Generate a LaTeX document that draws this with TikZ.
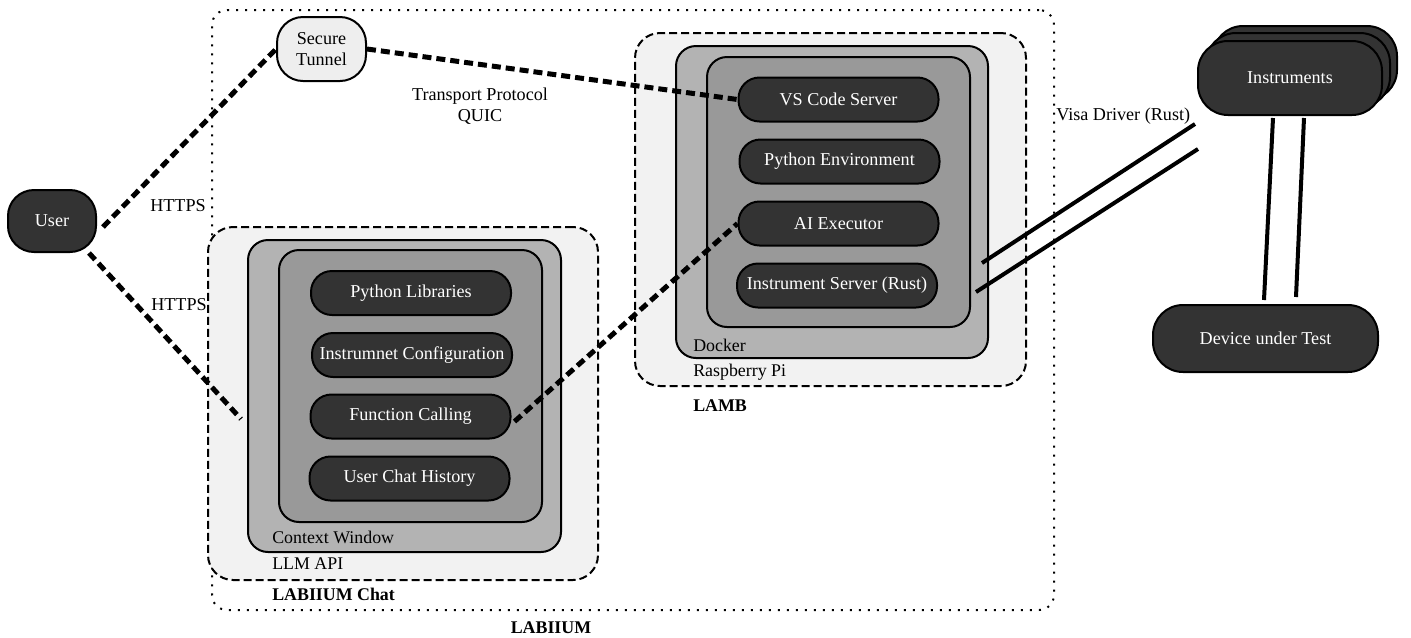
\documentclass[tikz,border=0pt]{standalone}
\usepackage{fontspec}
\setmainfont{Liberation Serif}
\newlength\px \setlength\px{0.75pt}
\begin{document}
\begin{tikzpicture}[x=0.75pt,y=-0.75pt,
  every node/.style={font=\rmfamily\fontsize{13.6}{15.5}\selectfont},
  pill/.style={draw=black, line width=2\px, fill=darkfill, text=white, rounded corners=21\px, minimum width=200\px, minimum height=44\px, inner sep=0pt},
  bignode/.style={draw=black, line width=2\px, fill=darkfill, text=white, rounded corners=30\px, inner sep=0pt},
  dashbox/.style={draw=black, line width=2\px, fill=lightfill, rounded corners=25\px, dash pattern=on 8\px off 4\px, inner sep=0pt},
  midbox/.style={draw=black, line width=2\px, fill=midfill, rounded corners=20\px, inner sep=0pt},
  innerbox/.style={draw=black, line width=2\px, fill=innerfill, rounded corners=20\px, inner sep=0pt},
  conn/.style={line width=5\px, dash pattern=on 9\px off 5\px},
  wire/.style={line width=4\px},
  lbl/.style={anchor=west, inner sep=0pt, font=\rmfamily\fontsize{13.4}{15}\selectfont},
  blbl/.style={inner sep=0pt, font=\rmfamily\bfseries\fontsize{13.4}{15}\selectfont},
]
\definecolor{darkfill}{HTML}{333333}
\definecolor{lightfill}{HTML}{F2F2F2}
\definecolor{midfill}{HTML}{B3B3B3}
\definecolor{innerfill}{HTML}{999999}
\definecolor{tunnelfill}{HTML}{EEEEEE}
\useasboundingbox (0,0) rectangle (1411,637);

% outer LABIIUM
\node[draw=black, line width=2\px, rounded corners=15\px, dash pattern=on 2\px off 7\px, minimum width=842\px, minimum height=600\px, inner sep=0pt] (labiium) at (633,310) {};
\node[blbl] (labiiumlbl) at (551,628) {LABIIUM};

% LLM API group
\node[dashbox, minimum width=390\px, minimum height=353\px] (llm) at (403,403.5) {};
\node[midbox, minimum width=313\px, minimum height=312\px] (ctx) at (404.5,396) {};
\node[innerbox, minimum width=263\px, minimum height=272\px] (ctxin) at (410.5,386) {};
\node[pill] (pylib) at (411,293) {Python Libraries};
\node[pill] (instcfg) at (412,355) {Instrumnet Configuration};
\node[pill] (fc) at (410.5,416.5) {Function Calling};
\node[pill] (uch) at (409.5,478.5) {User Chat History};
\node[lbl] (ctxlbl) at (272,537) {Context Window};
\node[lbl] (llmlbl) at (272,564) {LLM API};
\node[blbl, anchor=west] (chatlbl) at (272,594) {LABIIUM Chat};

% Raspberry Pi group
\node[dashbox, minimum width=391\px, minimum height=353\px] (rpi) at (830.5,209.5) {};
\node[midbox, minimum width=312\px, minimum height=312\px] (docker) at (832,202) {};
\node[innerbox, minimum width=263\px, minimum height=270\px] (dockin) at (838.5,192) {};
\node[pill] (vscode) at (838.5,99.5) {VS Code Server};
\node[pill] (pyenv) at (839.5,161.5) {Python Environment};
\node[pill] (aiex) at (838.5,223.5) {AI Executor};
\node[pill] (instsrv) at (837,285.5) {Instrument Server (Rust)};
\node[lbl] (dockerlbl) at (693,345) {Docker};
\node[lbl] (rpilbl) at (693,372) {Raspberry Pi};
\node[blbl, anchor=west] (lamblbl) at (693,406) {LAMB};

% User and tunnel
\node[bignode, rounded corners=26\px, minimum width=88\px, minimum height=62\px] (user) at (52,221) {User};
\node[draw=black, line width=2\px, fill=tunnelfill, rounded corners=26\px, minimum width=89\px, minimum height=64\px, inner sep=0pt, align=center] (tunnel) at (321.5,49) {Secure\\Tunnel};

% Instruments (stacked)
\node[bignode, minimum width=184\px, minimum height=74\px] (instr3) at (1305,63) {};
\node[bignode, minimum width=184\px, minimum height=74\px] (instr2) at (1298,70) {};
\node[bignode, minimum width=184\px, minimum height=74\px] (instr) at (1290,78) {Instruments};
\node[bignode, minimum width=225\px, minimum height=67\px] (dut) at (1265.5,338.5) {Device under Test};

% coordinates for free ends
\coordinate (httpsend) at (241,419);
\coordinate (v1a) at (982,263);
\coordinate (v1b) at (1195,124);
\coordinate (v2a) at (976,292);
\coordinate (v2b) at (1198,149);
\coordinate (d1a) at (1273,118);
\coordinate (d1b) at (1264,300);
\coordinate (d2a) at (1304,118);
\coordinate (d2b) at (1296,297);

% connectors
\draw[conn] (user.east) ++(6\px,-6\px) -- (tunnel.west);
\draw[conn] (user.south east) ++(-8\px,0) -- (httpsend);
\draw[conn] (tunnel.east) -- (vscode.west);
\draw[conn] (fc.east) ++(3\px,-5\px) -- (aiex.west);
\draw[wire] (v1a) -- (v1b);
\draw[wire] (v2a) -- (v2b);
\draw[wire] (d1a) -- (d1b);
\draw[wire] (d2a) -- (d2b);

% labels
\node[inner sep=0pt] (https1) at (178,206) {HTTPS};
\node[inner sep=0pt] (https2) at (179,305) {HTTPS};
\node[inner sep=0pt, align=center] (quic) at (480,106) {Transport Protocol\\QUIC};
\node[inner sep=0pt, anchor=west] (visa) at (1056,116) {Visa Driver (Rust)};
\end{tikzpicture}
\end{document}
